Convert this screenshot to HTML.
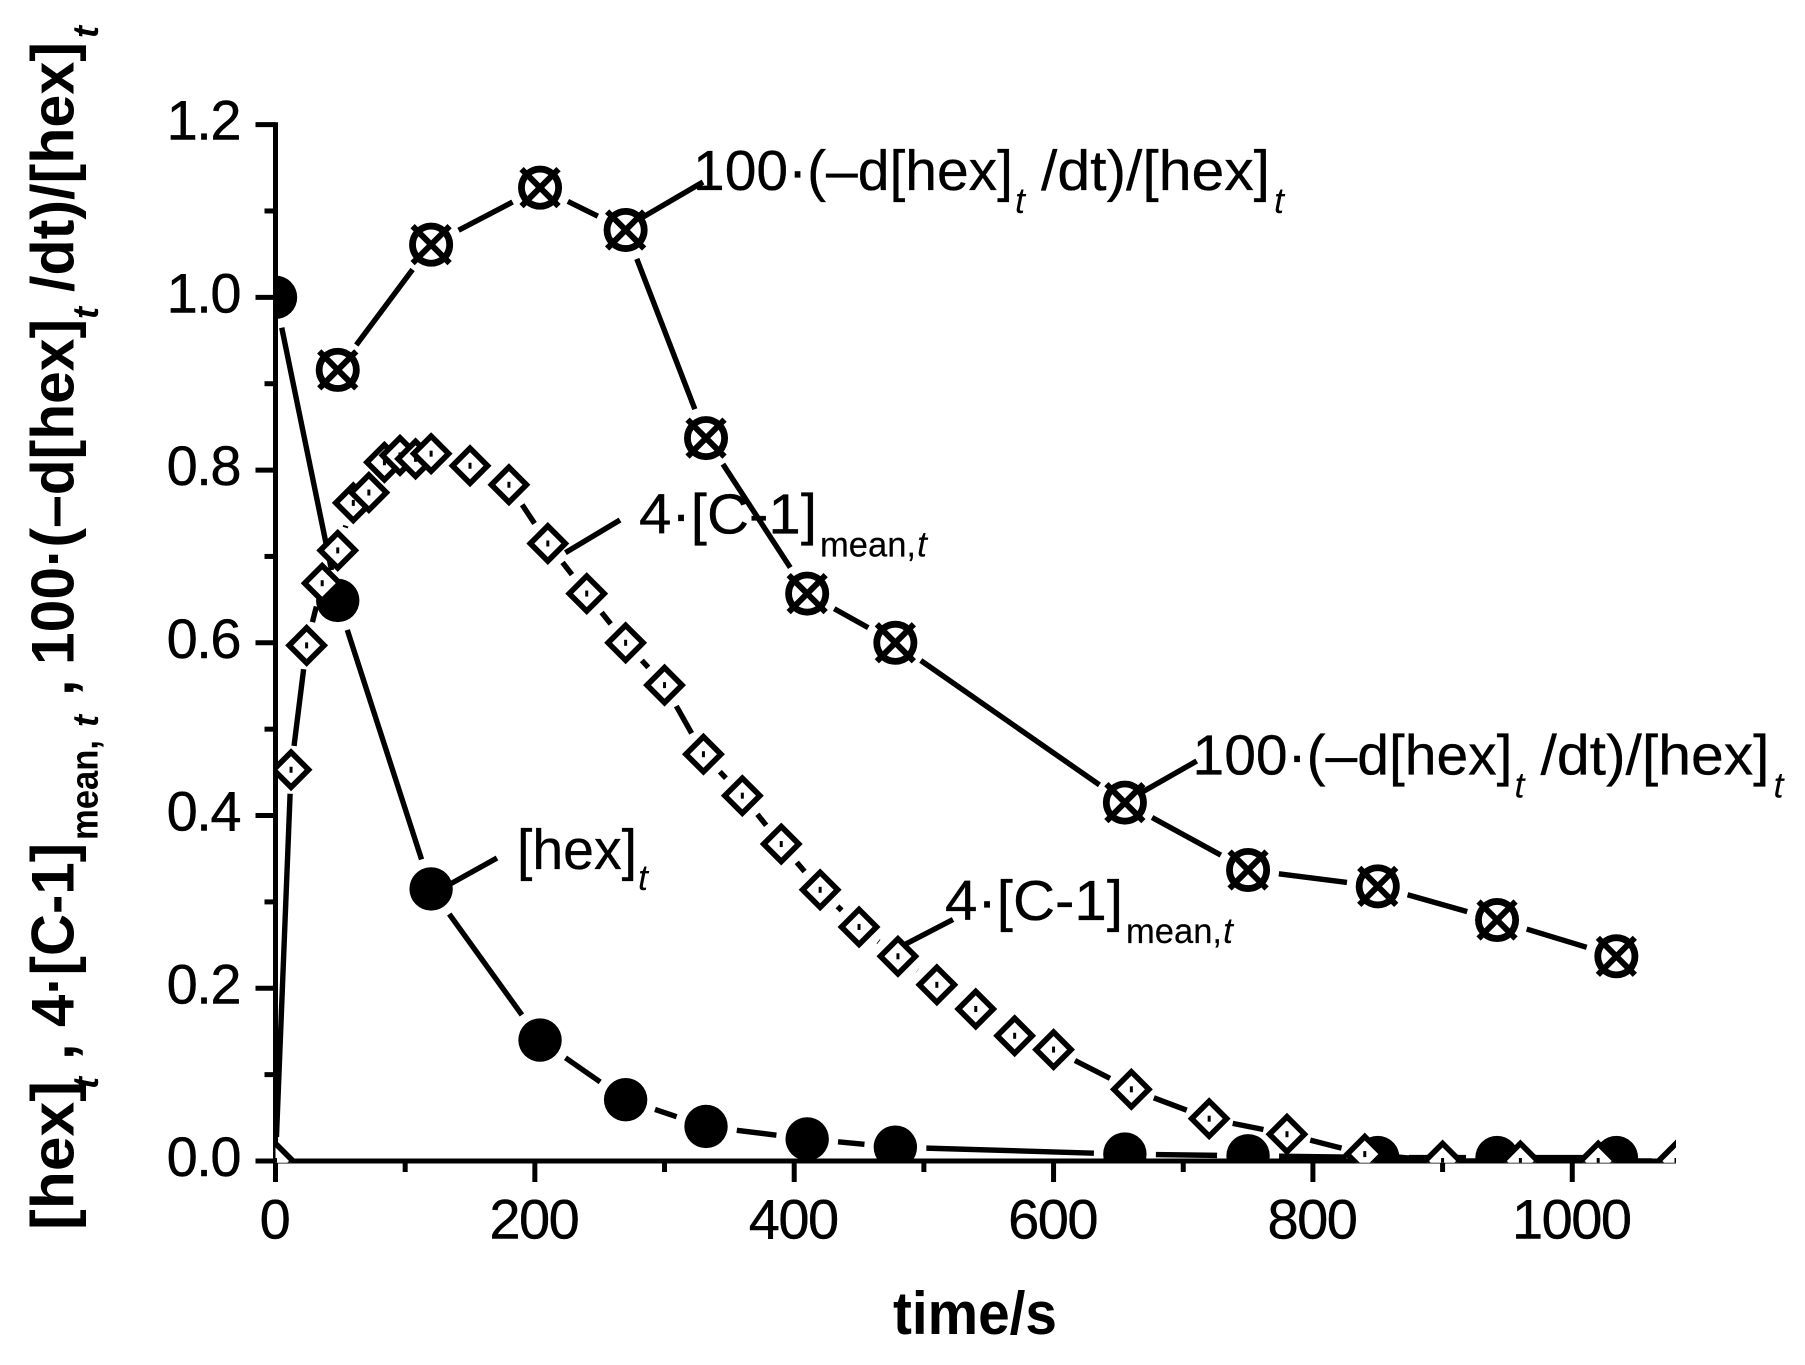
<!DOCTYPE html>
<html lang="en">
<head>
<meta charset="utf-8">
<title>Hexene concentration over time</title>
<style>
html,body{margin:0;padding:0;background:#fff;}
svg{display:block;font-family:"Liberation Sans",Arial,sans-serif;}
text{fill:#000;}
.tick{font-size:56px;letter-spacing:-1.5px;stroke:#000;stroke-width:0.4px;}
.ann{font-size:57px;stroke:#000;stroke-width:0.3px;}
.annsub{font-size:35px;stroke:#000;stroke-width:0.2px;}
.annt{font-size:36px;font-style:italic;}
.ttl{font-size:60px;font-weight:bold;}
.ttlsub{font-size:38px;font-weight:bold;}
.ttlt{font-size:36px;font-weight:bold;font-style:italic;}
</style>
</head>
<body>
<svg id="chart" xmlns="http://www.w3.org/2000/svg" width="1805" height="1365" viewBox="0 0 1805 1365">
  <rect x="0" y="0" width="1805" height="1365" fill="#fff"/>
  <defs><clipPath id="plot-clip"><rect x="275.5" y="100" width="1400.5" height="1062.7"/></clipPath></defs>
  <g id="axes"></g>
  <g id="plot" clip-path="url(#plot-clip)"></g>

  <g stroke="#000" stroke-width="5.4">
    <line x1="640" y1="218.8" x2="703" y2="182"/>
    <line x1="565.4" y1="552.7" x2="620" y2="520"/>
    <line x1="450.6" y1="883.8" x2="497" y2="858"/>
    <line x1="1139.5" y1="793.6" x2="1196.7" y2="761"/>
    <line x1="905.8" y1="944" x2="953" y2="919.5"/>
  </g>

  <g>
    <text class="ann" x="693" y="190" textLength="320" lengthAdjust="spacingAndGlyphs">100·(–d[hex]</text>
    <text class="annt" x="1015" y="213">t</text>
    <text class="ann" x="1041" y="190" textLength="229" lengthAdjust="spacingAndGlyphs">/dt)/[hex]</text>
    <text class="annt" x="1274" y="213">t</text>
  </g>
  <g transform="translate(499.5,584.4)">
    <text class="ann" x="693" y="190" textLength="320" lengthAdjust="spacingAndGlyphs">100·(–d[hex]</text>
    <text class="annt" x="1015" y="213">t</text>
    <text class="ann" x="1041" y="190" textLength="229" lengthAdjust="spacingAndGlyphs">/dt)/[hex]</text>
    <text class="annt" x="1274" y="213">t</text>
  </g>
  <g>
    <text class="ann" x="639" y="533.5" textLength="178" lengthAdjust="spacingAndGlyphs">4·[C-1]</text>
    <text class="annsub" x="820" y="556.5" textLength="96" lengthAdjust="spacingAndGlyphs">mean,</text>
    <text class="annt" x="917" y="556.5">t</text>
  </g>
  <g transform="translate(306,386.5)">
    <text class="ann" x="639" y="533.5" textLength="178" lengthAdjust="spacingAndGlyphs">4·[C-1]</text>
    <text class="annsub" x="820" y="556.5" textLength="96" lengthAdjust="spacingAndGlyphs">mean,</text>
    <text class="annt" x="917" y="556.5">t</text>
  </g>
  <g>
    <text class="ann" x="517" y="869" textLength="120" lengthAdjust="spacingAndGlyphs">[hex]</text>
    <text class="annt" x="638" y="890">t</text>
  </g>

  <text class="ttl" x="893" y="1334" textLength="164" lengthAdjust="spacingAndGlyphs">time/s</text>

  <g>
    <text class="ttl" transform="translate(73.5,1230) rotate(-90)" textLength="149" lengthAdjust="spacingAndGlyphs">[hex]</text>
    <text class="ttlt" transform="translate(98,1089) rotate(-90)">t</text>
    <text class="ttl" transform="translate(73.5,1060) rotate(-90)">,</text>
    <text class="ttl" transform="translate(73.5,1027) rotate(-90)" textLength="184" lengthAdjust="spacingAndGlyphs">4·[C-1]</text>
    <text class="ttlsub" transform="translate(97.6,840) rotate(-90)" textLength="100" lengthAdjust="spacingAndGlyphs">mean,</text>
    <text class="ttlt" transform="translate(98,727) rotate(-90)">t</text>
    <text class="ttl" transform="translate(73.5,696) rotate(-90)">,</text>
    <text class="ttl" transform="translate(73.5,665) rotate(-90)" textLength="346" lengthAdjust="spacingAndGlyphs">100·(–d[hex]</text>
    <text class="ttlt" transform="translate(98,319) rotate(-90)">t</text>
    <text class="ttl" transform="translate(73.5,292) rotate(-90)" textLength="250" lengthAdjust="spacingAndGlyphs">/dt)/[hex]</text>
    <text class="ttlt" transform="translate(98,38) rotate(-90)">t</text>
  </g>
</svg>

<script>
const xMajorTicks = [0, 200, 400, 600, 800, 1000];
const xMinorTicks = [100, 300, 500, 700, 900];
const yMajorTicks = [0, 0.2, 0.4, 0.6, 0.8, 1.0, 1.2];
const yMinorTicks = [0.1, 0.3, 0.5, 0.7, 0.9, 1.1];
const xDomain = [0, 1080];
const yDomain = [0, 1.2];

const hexTimes = [0, 48, 120, 204, 270, 332, 410, 478, 655, 750, 850, 942, 1034];
const hexValues = [1.0, 0.649, 0.315, 0.14, 0.071, 0.04, 0.0255, 0.016, 0.008, 0.006, 0.004, 0.004, 0.004];

const rateTimes = [48, 120, 204, 270, 332, 410, 478, 655, 750, 850, 942, 1034];
const rateValues = [0.916, 1.061, 1.127, 1.078, 0.837, 0.657, 0.6, 0.415, 0.337, 0.318, 0.279, 0.237];

const c1Times = [0, 12, 24, 36, 48, 60, 72, 84, 96, 108, 120, 150, 180, 210, 240, 270, 300, 330, 360, 390, 420, 450, 480, 510, 540, 570, 600, 660, 720, 780, 840, 900, 960, 1020, 1080];
const c1Values = [0, 0.453, 0.597, 0.669, 0.707, 0.762, 0.774, 0.809, 0.817, 0.813, 0.819, 0.805, 0.783, 0.715, 0.657, 0.6, 0.551, 0.471, 0.423, 0.367, 0.314, 0.271, 0.237, 0.204, 0.176, 0.145, 0.129, 0.083, 0.049, 0.031, 0.008, 0, 0, 0, 0];

const NS = 'http://www.w3.org/2000/svg';
const plot = document.getElementById('plot');
const axes = document.getElementById('axes');
const X0 = 275.5, X1 = 1676, Y0 = 1161, Y1 = 124.6;
const LINE_W = 5.4;
function xs(t) { return X0 + (t - xDomain[0]) / (xDomain[1] - xDomain[0]) * (X1 - X0); }
function ys(v) { return Y0 - (v - yDomain[0]) / (yDomain[1] - yDomain[0]) * (Y0 - Y1); }
function mk(tag, parent, attrs) {
  const e = document.createElementNS(NS, tag);
  for (const k in attrs) e.setAttribute(k, attrs[k]);
  parent.appendChild(e);
  return e;
}

function drawLine(times, values, gap, parent) {
  for (let i = 0; i + 1 < times.length; i++) {
    const ax = xs(times[i]), ay = ys(values[i]), bx = xs(times[i + 1]), by = ys(values[i + 1]);
    const d = Math.hypot(bx - ax, by - ay);
    if (d <= 2 * gap) continue;
    const ux = (bx - ax) / d, uy = (by - ay) / d;
    const seg = mk('line', parent, { x1: ax + ux * gap, y1: ay + uy * gap, x2: bx - ux * gap, y2: by - uy * gap, stroke: '#000', 'stroke-width': LINE_W });
    
    
  }
}

const yAxisLine = mk('line', axes, { x1: X0, y1: Y1 - 2.4, x2: X0, y2: Y0 + 21, stroke: '#000', 'stroke-width': 5 });


const xAxisLine = mk('line', axes, { x1: X0 - 20, y1: Y0, x2: X1, y2: Y0, stroke: '#000', 'stroke-width': 5 });



yMajorTicks.forEach(function (v) {
  const y = ys(v);
  const tk = mk('line', axes, { x1: X0 - 20, y1: y, x2: X0, y2: y, stroke: '#000', 'stroke-width': 5 });
  
  
  const lb = mk('text', axes, { class: 'tick', x: 240, y: y + 15, 'text-anchor': 'end' });
  lb.textContent = v.toFixed(1);
  
  
});
yMinorTicks.forEach(function (v) {
  const y = ys(v);
  const tk = mk('line', axes, { x1: X0 - 11, y1: y, x2: X0, y2: y, stroke: '#000', 'stroke-width': 5 });
  
  
});
xMajorTicks.forEach(function (t) {
  const x = xs(t);
  const tk = mk('line', axes, { x1: x, y1: Y0, x2: x, y2: Y0 + 21, stroke: '#000', 'stroke-width': 5 });
  
  
  const lb = mk('text', axes, { class: 'tick', x: x - 1, y: 1238.5, 'text-anchor': 'middle' });
  lb.textContent = String(t);
  
  
});
xMinorTicks.forEach(function (t) {
  const x = xs(t);
  const tk = mk('line', axes, { x1: x, y1: Y0, x2: x, y2: Y0 + 11, stroke: '#000', 'stroke-width': 5 });
  
  
});

const hexGroup = mk('g', plot, {});


drawLine(hexTimes, hexValues, 31, hexGroup);
hexTimes.forEach(function (t, i) {
  const c = mk('circle', hexGroup, { cx: xs(t), cy: ys(hexValues[i]), r: 21.7, fill: '#000' });
  
  
});

const rateGroup = mk('g', plot, {});


drawLine(rateTimes, rateValues, 31, rateGroup);
rateTimes.forEach(function (t, i) {
  const cx = xs(t), cy = ys(rateValues[i]);
  const g = mk('g', rateGroup, {});
  
  
  mk('circle', g, { cx: cx, cy: cy, r: 18.6, fill: '#fff', stroke: '#000', 'stroke-width': 6.8 });
  mk('line', g, { x1: cx - 18.5, y1: cy - 18.5, x2: cx + 18.5, y2: cy + 18.5, stroke: '#000', 'stroke-width': 6 });
  mk('line', g, { x1: cx - 18.5, y1: cy + 18.5, x2: cx + 18.5, y2: cy - 18.5, stroke: '#000', 'stroke-width': 6 });
});

const c1Group = mk('g', plot, {});


drawLine(c1Times, c1Values, 24, c1Group);
c1Times.forEach(function (t, i) {
  const cx = xs(t), cy = ys(c1Values[i]);
  const g = mk('g', c1Group, {});
  
  
  const r = 17.5;
  mk('polygon', g, { points: cx + ',' + (cy - r) + ' ' + (cx + r) + ',' + cy + ' ' + cx + ',' + (cy + r) + ' ' + (cx - r) + ',' + cy, fill: '#fff', stroke: '#000', 'stroke-width': 5.6 });
  mk('rect', g, { x: cx - 1.5, y: cy - 3, width: 3, height: 6, fill: '#000' });
});
</script>
</body>
</html>
